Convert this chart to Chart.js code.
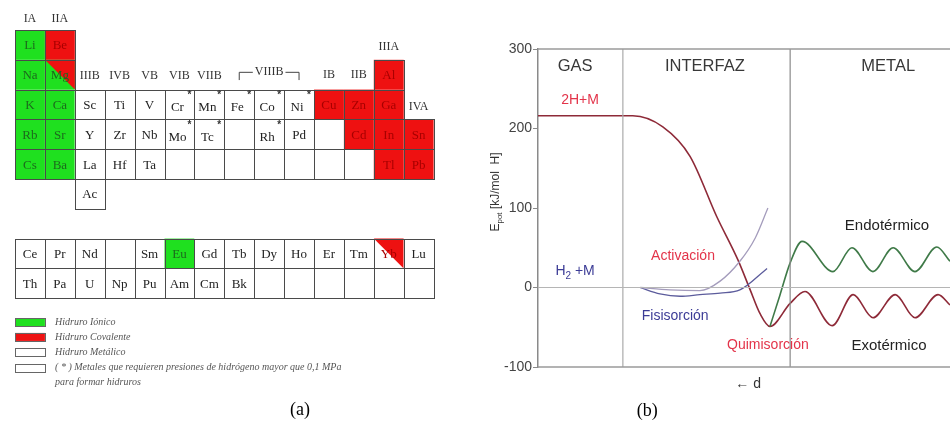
<!DOCTYPE html>
<html>
<head>
<meta charset="utf-8">
<script src="https://cdn.jsdelivr.net/npm/chart.js@4"></script>
<style>
html, body { margin: 0; padding: 0; background: #fff; }
#panelA { position: absolute; left: 0; top: 0; }
#panelB { position: absolute; left: 470px; top: 0; }
</style>
</head>
<body>
<canvas id="panelA" width="475" height="429"></canvas>
<canvas id="panelB" width="480" height="429"></canvas>
<script>
// ---------- (a) tabla periodica ----------
var filaNum = [0, 1, 2, 3, 4, 5, 7, 8];
var filas = [
    ['Li', 'Be'],
    ['Na', 'Mg', null, null, null, null, null, null, null, null, null, null, 'Al'],
    ['K', 'Ca', 'Sc', 'Ti', 'V', 'Cr', 'Mn', 'Fe', 'Co', 'Ni', 'Cu', 'Zn', 'Ga'],
    ['Rb', 'Sr', 'Y', 'Zr', 'Nb', 'Mo', 'Tc', '', 'Rh', 'Pd', '', 'Cd', 'In', 'Sn'],
    ['Cs', 'Ba', 'La', 'Hf', 'Ta', '', '', '', '', '', '', '', 'Tl', 'Pb'],
    [null, null, 'Ac'],
    ['Ce', 'Pr', 'Nd', '', 'Sm', 'Eu', 'Gd', 'Tb', 'Dy', 'Ho', 'Er', 'Tm', 'Yb', 'Lu'],
    ['Th', 'Pa', 'U', 'Np', 'Pu', 'Am', 'Cm', 'Bk', '', '', '', '', '', '']
];
var ionicos = ['Li', 'Na', 'K', 'Rb', 'Cs', 'Ca', 'Sr', 'Ba', 'Eu'];
var covalentes = ['Be', 'Al', 'Cu', 'Zn', 'Ga', 'Cd', 'In', 'Sn', 'Tl', 'Pb'];
var mixtos = ['Mg', 'Yb'];
var conAsterisco = ['Cr', 'Mn', 'Fe', 'Co', 'Ni', 'Mo', 'Tc', 'Rh'];

var grupos = ['IA', 'IIA', 'IIIB', 'IVB', 'VB', 'VIB', 'VIIB', 'VIIIB', 'IB', 'IIB', 'IIIA', 'IVA'];
var grupoCol = [0, 1, 2, 3, 4, 5, 6, 8, 10, 11, 12, 13];
var grupoFila = [-0.37, -0.37, 1.54, 1.54, 1.54, 1.54, 1.54, 1.42, 1.51, 1.51, 0.57, 2.58];

var leyendaTexto = ['Hidruro Iónico', 'Hidruro Covalente', 'Hidruro Metálico',
    '( * ) Metales que requieren presiones de hidrógeno mayor que 0,1 MPa', 'para formar hidruros'];
var leyendaColor = ['#1fe01f', '#ee1111', '#ffffff', '#ffffff', null];
var leyendaFila = [9.8, 10.3, 10.82, 11.33, 11.84];

// ---------- (b) energia potencial ----------
var xCurva2H = [0, 2.3, 3.03, 3.69, 4.34, 4.85, 5.15, 5.39, 5.63, 6.12, 6.48, 7.14, 7.65, 8.13, 8.67, 9.15, 9.71, 10];
var eCurva2H = [216, 216, 202, 165, 89, 35, -3, -33, -49, -20, -5, -48, -9, -38, -9, -38, -9, -22];
var xEndo = [5.63, 5.87, 6.12, 6.41, 7.16, 7.62, 8.13, 8.62, 9.15, 9.68, 10];
var eEndo = [-49, -10, 31, 58, 20, 50, 20, 50, 20, 51, 33];
var xActivacion = [2.48, 3.2, 3.93, 4.42, 4.9, 5.27, 5.58];
var eActivacion = [0, -3, -4, 8, 33, 62, 100];
var xFisisorcion = [2.48, 2.96, 3.45, 3.93, 4.42, 4.9, 5.56];
var eFisisorcion = [0, -8, -11, -9, -7, -3, 24];
var limitesZona = [2.06, 6.12];
var eMin = -100, eMax = 300;

var etiquetas = ['GAS', 'INTERFAZ', 'METAL', '2H+M', 'Activación', 'Fisisorción', 'Quimisorción', 'Endotérmico', 'Exotérmico', '\u2190 d'];
var etiquetaX = [0.9, 4.05, 8.5, 1.02, 3.52, 3.33, 5.58, 8.47, 8.52, 5.1];
var etiquetaE = [278, 278, 278, 236, 40, -36, -72, 77, -74, -122];
var etiquetaColor = ['#383838', '#383838', '#383838', '#e3344a', '#e3344a', '#3c3c96', '#e3344a', '#222', '#222', '#333'];
var etiquetaSize = [16.5, 16.5, 16.5, 14, 14, 14, 14, 15, 15, 14];

var SERIF = '"Liberation Serif", "Times New Roman", serif';
var SANS = '"Liberation Sans", Arial, sans-serif';

function puntos(xs, ys) {
    var out = [];
    for (var i = 0; i < xs.length; i++) {
        out.push({x: xs[i], y: ys[i]});
    }
    return out;
}

var tablaPlugin = {
    id: 'tabla',
    afterDraw: function(chart) {
        var ctx = chart.ctx;
        var sx = chart.scales.x, sy = chart.scales.y;
        function px(c) { return sx.getPixelForValue(c); }
        function py(r) { return sy.getPixelForValue(r); }
        ctx.save();
        // fondos
        for (var f = 0; f < filas.length; f++) {
            for (var c = 0; c < filas[f].length; c++) {
                var s = filas[f][c];
                if (s === null) continue;
                var x0 = px(c), x1 = px(c + 1), y0 = py(filaNum[f]), y1 = py(filaNum[f] + 1);
                var fondo = '#fff';
                if (ionicos.indexOf(s) >= 0) fondo = '#1fe01f';
                if (covalentes.indexOf(s) >= 0) fondo = '#ee1111';
                if (s === 'Mg') fondo = '#1fe01f';
                ctx.fillStyle = fondo;
                ctx.fillRect(x0, y0, x1 - x0, y1 - y0);
                if (mixtos.indexOf(s) >= 0) {
                    ctx.fillStyle = '#ee1111';
                    ctx.beginPath();
                    ctx.moveTo(x0, y0);
                    ctx.lineTo(x1, y0);
                    ctx.lineTo(x1, y1);
                    ctx.closePath();
                    ctx.fill();
                }
            }
        }
        // bordes
        ctx.strokeStyle = '#4a4a4a';
        ctx.lineWidth = 1;
        for (var f = 0; f < filas.length; f++) {
            for (var c = 0; c < filas[f].length; c++) {
                if (filas[f][c] === null) continue;
                var x0 = Math.round(px(c)) + 0.5, x1 = Math.round(px(c + 1)) + 0.5;
                var y0 = Math.round(py(filaNum[f])) + 0.5, y1 = Math.round(py(filaNum[f] + 1)) + 0.5;
                ctx.strokeRect(x0, y0, x1 - x0, y1 - y0);
            }
        }
        // simbolos
        ctx.textAlign = 'center';
        ctx.textBaseline = 'middle';
        for (var f = 0; f < filas.length; f++) {
            for (var c = 0; c < filas[f].length; c++) {
                var s = filas[f][c];
                if (!s) continue;
                var x0 = px(c), x1 = px(c + 1), y0 = py(filaNum[f]), y1 = py(filaNum[f] + 1);
                var cx = (x0 + x1) / 2, cy = (y0 + y1) / 2;
                var col = '#222';
                if (ionicos.indexOf(s) >= 0 || s === 'Mg') col = '#1d6a1d';
                if (covalentes.indexOf(s) >= 0 || s === 'Yb') col = '#a80000';
                ctx.fillStyle = col;
                ctx.font = '13px ' + SERIF;
                if (conAsterisco.indexOf(s) >= 0) {
                    ctx.fillText(s, cx - 2, cy + 3);
                    ctx.font = 'bold 10px ' + SANS;
                    ctx.fillStyle = '#333';
                    ctx.fillText('*', x1 - 5, y0 + 6);
                } else {
                    ctx.fillText(s, cx, cy + 1);
                }
            }
        }
        // grupos
        ctx.font = '12px ' + SERIF;
        ctx.fillStyle = '#333';
        for (var g = 0; g < grupos.length; g++) {
            ctx.fillText(grupos[g], px(grupoCol[g] + 0.5), py(grupoFila[g]));
        }
        // corchete VIIIB
        var bx0 = px(7.5), bx1 = px(9.5), bc = px(8.5);
        var by0 = py(1.42), by1 = py(1.68);
        var tw = ctx.measureText('VIIIB').width / 2 + 2;
        ctx.strokeStyle = '#444';
        ctx.beginPath();
        ctx.moveTo(bx0, by1); ctx.lineTo(bx0, by0); ctx.lineTo(bc - tw, by0);
        ctx.moveTo(bc + tw, by0); ctx.lineTo(bx1, by0); ctx.lineTo(bx1, by1);
        ctx.stroke();
        // leyenda
        ctx.textAlign = 'left';
        for (var l = 0; l < leyendaTexto.length; l++) {
            var ly = py(leyendaFila[l]);
            if (leyendaColor[l]) {
                ctx.fillStyle = leyendaColor[l];
                ctx.fillRect(px(0), ly - 4, px(1) - px(0), 8);
                ctx.strokeStyle = '#666';
                ctx.strokeRect(Math.round(px(0)) + 0.5, Math.round(ly - 4) + 0.5, Math.round(px(1) - px(0)), 8);
            }
            ctx.fillStyle = '#555';
            ctx.font = 'italic 10px ' + SERIF;
            ctx.fillText(leyendaTexto[l], px(1.34), ly);
        }
        // (a)
        ctx.textAlign = 'center';
        ctx.fillStyle = '#000';
        ctx.font = '18px ' + SERIF;
        ctx.fillText('(a)', px(9.53), py(12.75));
        ctx.restore();
    }
};

new Chart(document.getElementById('panelA'), {
    type: 'scatter',
    data: { datasets: [{ data: [] }] },
    options: {
        responsive: false,
        animation: false,
        devicePixelRatio: 1,
        layout: { padding: 0 },
        plugins: { legend: { display: false }, tooltip: { enabled: false } },
        scales: {
            x: { type: 'linear', display: false, min: -0.502, max: 15.385 },
            y: { type: 'linear', display: false, reverse: true, min: -1.007, max: 13.39 }
        }
    },
    plugins: [tablaPlugin]
});

var textoPlugin = {
    id: 'textos',
    afterDraw: function(chart) {
        var ctx = chart.ctx;
        var sx = chart.scales.x, sy = chart.scales.y;
        ctx.save();
        ctx.textAlign = 'center';
        ctx.textBaseline = 'middle';
        for (var i = 0; i < etiquetas.length; i++) {
            ctx.font = etiquetaSize[i] + 'px ' + SANS;
            ctx.fillStyle = etiquetaColor[i];
            ctx.fillText(etiquetas[i], sx.getPixelForValue(etiquetaX[i]), sy.getPixelForValue(etiquetaE[i]));
        }
        // H2+M con subindice
        var hx = sx.getPixelForValue(0.9), hy = sy.getPixelForValue(20);
        ctx.fillStyle = '#3c3c96';
        ctx.textAlign = 'left';
        ctx.font = '14px ' + SANS;
        var wH = ctx.measureText('H').width;
        ctx.font = '10px ' + SANS;
        var w2 = ctx.measureText('2').width;
        ctx.font = '14px ' + SANS;
        var wR = ctx.measureText(' +M').width;
        var start = hx - (wH + w2 + wR) / 2;
        ctx.fillText('H', start, hy);
        ctx.font = '10px ' + SANS;
        ctx.fillText('2', start + wH, hy + 5);
        ctx.font = '14px ' + SANS;
        ctx.fillText(' +M', start + wH + w2, hy);
        // titulo eje y
        ctx.save();
        ctx.translate(26, 192);
        ctx.rotate(-Math.PI / 2);
        ctx.fillStyle = '#333';
        ctx.font = '12px ' + SANS;
        var wE = ctx.measureText('E').width;
        ctx.font = '8px ' + SANS;
        var wp = ctx.measureText('pot').width;
        ctx.font = '12px ' + SANS;
        var wt = ctx.measureText(' [kJ/mol  H]').width;
        var s0 = -(wE + wp + wt) / 2;
        ctx.fillText('E', s0, 0);
        ctx.font = '8px ' + SANS;
        ctx.fillText('pot', s0 + wE, 4);
        ctx.font = '12px ' + SANS;
        ctx.fillText(' [kJ/mol  H]', s0 + wE + wp, 0);
        ctx.restore();
        // (b)
        ctx.textAlign = 'center';
        ctx.fillStyle = '#000';
        ctx.font = '18px ' + SERIF;
        ctx.fillText('(b)', sx.getPixelForValue(2.65), sy.getPixelForValue(-156));
        ctx.restore();
    }
};

function linea(xs, ys, color, ancho, suave) {
    return {
        data: puntos(xs, ys),
        borderColor: color,
        borderWidth: ancho,
        pointRadius: 0,
        fill: false,
        cubicInterpolationMode: suave ? 'monotone' : 'default',
        tension: 0,
        clip: false
    };
}

new Chart(document.getElementById('panelB'), {
    type: 'line',
    data: {
        datasets: [
            linea([0, 10], [eMax, eMax], '#9a9a9a', 1.5, false),
            linea([0, 10], [eMin, eMin], '#9a9a9a', 1.5, false),
            linea([0, 10], [0, 0], '#b5b5b5', 1, false),
            linea([limitesZona[0], limitesZona[0]], [eMin, eMax], '#aaaaaa', 1.2, false),
            linea([limitesZona[1], limitesZona[1]], [eMin, eMax], '#8a8a8a', 1.2, false),
            linea(xActivacion, eActivacion, '#a49cbc', 1.3, true),
            linea(xFisisorcion, eFisisorcion, '#5c5c9c', 1.3, true),
            linea(xEndo, eEndo, '#3f7a48', 1.6, true),
            linea(xCurva2H, eCurva2H, '#8e2a38', 1.6, true)
        ]
    },
    options: {
        responsive: false,
        animation: false,
        devicePixelRatio: 1,
        layout: { padding: { left: 0, right: 0, top: 49, bottom: 62 } },
        plugins: { legend: { display: false }, tooltip: { enabled: false } },
        scales: {
            x: { type: 'linear', display: false, min: 0, max: 10 },
            y: {
                type: 'linear',
                min: eMin,
                max: eMax,
                afterFit: function(scale) { scale.width = 68; },
                ticks: { stepSize: 100, font: { family: SANS, size: 14 }, color: '#444', padding: 1 },
                grid: { drawOnChartArea: false, tickLength: 5, color: '#8a8a8a' },
                border: { color: '#8a8a8a', width: 1.5 }
            }
        }
    },
    plugins: [textoPlugin]
});
</script>
</body>
</html>
